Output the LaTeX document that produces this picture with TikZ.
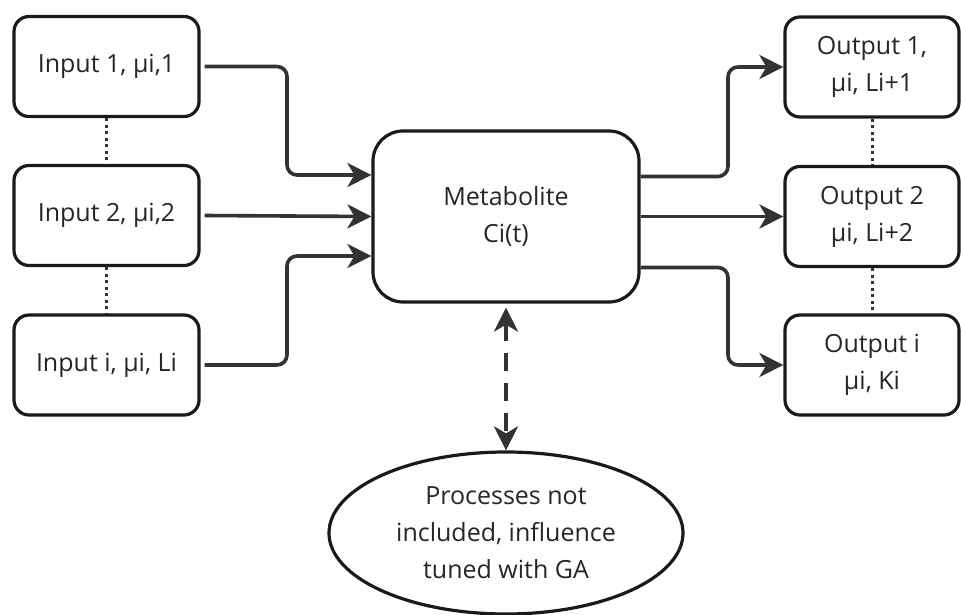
\documentclass[tikz,border=0pt]{standalone}
\usepackage{fontspec}
\setmainfont{Open Sans}
\usetikzlibrary{arrows.meta,shapes.geometric,calc}
\definecolor{ink}{HTML}{1A1A1A}
\definecolor{wire}{HTML}{333333}
\definecolor{txt}{HTML}{262626}
\begin{document}
\begin{tikzpicture}[x=1pt,y=-1pt,
  box/.style={draw=ink,line width=3.2pt,rounded corners=15pt,fill=white,align=center,
    font=\fontsize{25}{37}\selectfont,text=txt,inner sep=0pt},
  inbox/.style={box,minimum width=185pt,minimum height=100pt},
  outbox/.style={box,minimum width=174pt,minimum height=100pt},
  bigtip/.tip={Stealth[length=24pt,width=24pt,inset=7pt]},
  arr/.style={draw=wire,line width=3.6pt,rounded corners=10pt,-{bigtip}},
  dotline/.style={draw=wire,line width=3pt,dash pattern=on 3pt off 3.5pt},
]
\useasboundingbox (0,0) rectangle (961,615);
\node[inbox] (in1) at (106.5,66.5) {Input 1, μi,1};
\node[inbox] (in2) at (106.5,215.5) {Input 2, μi,2};
\node[inbox] (in3) at (106.5,365) {Input i, μi, Li};
\node[outbox] (out1) at (872,67) {Output 1,\\μi, Li+1};
\node[outbox] (out2) at (872,216.5) {Output 2\\μi, Li+2};
\node[outbox] (out3) at (872,365) {Output i\\μi, Ki};
\node[box,rounded corners=30pt,minimum width=266pt,minimum height=171pt] (met) at (506,216.5) {Metabolite\\Ci(t)};
\node[draw=ink,line width=3.2pt,ellipse,minimum width=354pt,minimum height=162pt,align=center,
  font=\fontsize{25}{37}\selectfont,text=txt,inner sep=0pt] (ell) at (506,533) {Processes not\\included, influence\\tuned with GA};
\draw[dotline] (in1.south) -- (in2.north);
\draw[dotline] (in2.south) -- (in3.north);
\draw[dotline] (out1.south) -- (out2.north);
\draw[dotline] (out2.south) -- (out3.north);
\draw[arr] ([xshift=4pt]in1.east) -- (287,66.5) |- ([yshift=41.5pt]met.west);
\draw[arr] ([xshift=4pt]in2.east) -- (met.west);
\draw[arr] ([xshift=4pt]in3.east) -- (287,365) |- ([yshift=-39.5pt]met.west);
\draw[arr] ([yshift=40pt]met.east) -- (728,176.5) |- (out1.west);
\draw[arr] (met.east) -- (out2.west);
\draw[arr] ([yshift=-51pt]met.east) -- (728,267.5) |- (out3.west);
\draw[draw=wire,line width=3.6pt,dash pattern=on 18pt off 12pt,{bigtip}-{bigtip}]
  ([yshift=-4pt]met.south) -- (ell.north);
\end{tikzpicture}
\end{document}
